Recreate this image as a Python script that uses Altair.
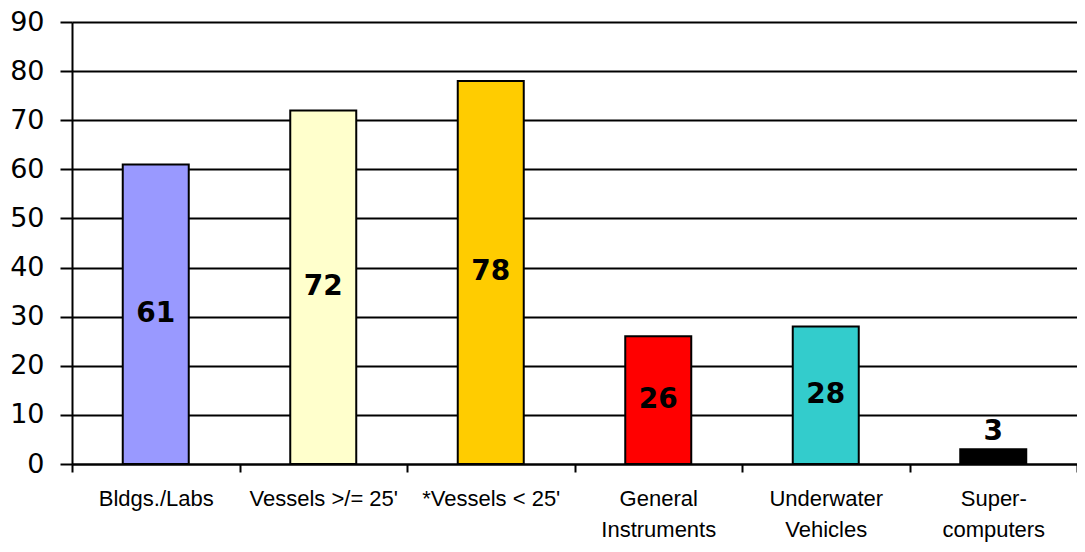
import altair as alt
import pandas as pd

categories = ["Bldgs./Labs", "Vessels >/= 25'", "*Vessels < 25'",
              "General\nInstruments", "Underwater\nVehicles", "Super-\ncomputers"]
values = [61, 72, 78, 26, 28, 3]
colors = ["#9999FF", "#FFFFCC", "#FFCC00", "#FF0000", "#33CCCC", "#000000"]
y_ticks = [0, 10, 20, 30, 40, 50, 60, 70, 80, 90]

df = pd.DataFrame({"category": categories, "value": values, "color": colors})

x_enc = alt.X("category:N", sort=None, title=None,
              scale=alt.Scale(paddingInner=0, paddingOuter=0),
              axis=alt.Axis(labelAngle=0, tickBand="extent",
                            labelExpr="split(datum.label, '\\n')",
                            labelFont="Liberation Sans", labelFontSize=22,
                            labelColor="black", labelBaseline="top",
                            labelLineHeight=31, labelPadding=16,
                            domainColor="black", domainWidth=2,
                            tickColor="black", tickWidth=2, tickSize=8))

y_enc = alt.Y("value:Q", title=None,
              scale=alt.Scale(domain=[0, 90], nice=False),
              axis=alt.Axis(values=y_ticks, grid=True, gridColor="black",
                            gridWidth=2, gridOpacity=1,
                            domainColor="black", domainWidth=2,
                            tickColor="black", tickWidth=2, tickSize=12,
                            labelFont="DejaVu Sans", labelFontSize=27,
                            labelColor="black", labelPadding=16))

base = alt.Chart(df)

bars = base.mark_bar(size=66, stroke="black", strokeWidth=2).encode(
    x=x_enc, y=y_enc,
    color=alt.Color("color:N", scale=None))

inside = base.transform_filter("datum.value > 10").transform_calculate(
    mid="datum.value / 2").mark_text(
    font="DejaVu Sans", fontWeight="bold", fontSize=28, color="black",
    baseline="middle").encode(
    x=alt.X("category:N", sort=None), y=alt.Y("mid:Q"), text="value:Q")

above = base.transform_filter("datum.value <= 10").mark_text(
    font="DejaVu Sans", fontWeight="bold", fontSize=28, color="black",
    baseline="bottom", dy=-3).encode(
    x=alt.X("category:N", sort=None), y=alt.Y("value:Q"), text="value:Q")

chart = alt.layer(bars, inside, above).properties(
    width=1005, height=442,
    autosize=alt.AutoSizeParams(type="none"),
    padding={"left": 64, "top": 14, "right": 0, "bottom": 79},
).configure_view(stroke=None).configure(background="white")

chart.save("out.html", embed_options={"renderer": "svg", "actions": False})
